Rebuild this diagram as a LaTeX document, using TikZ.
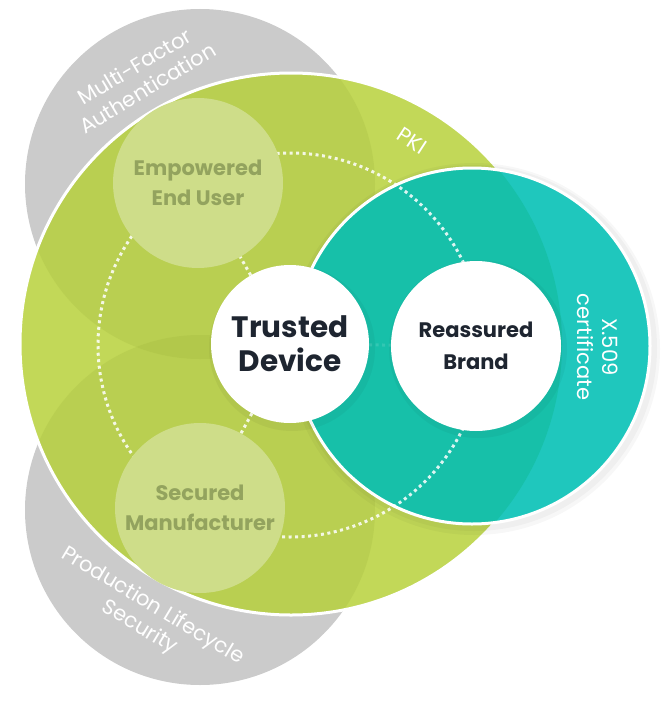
\documentclass[tikz,border=0pt]{standalone}
\usepackage{fontspec}
\setmainfont{Poppins}
\definecolor{graybg}{HTML}{CBCBCB}
\definecolor{greenlight}{HTML}{C2D858}
\definecolor{teallight}{HTML}{1FC7BD}
\definecolor{tealdark}{HTML}{17C0A9}
\definecolor{innergreen}{HTML}{CEDD89}
\definecolor{innertext}{HTML}{93A35E}
\definecolor{navy}{HTML}{1E2530}
\definecolor{greenshade}{HTML}{8FA530}
\tikzset{
  lightcirc/.style={circle, fill=innergreen, minimum size=170pt, inner sep=0pt, align=center,
    text=innertext, font=\fontsize{21}{30}\selectfont\bfseries},
  whitecirc/.style={circle, fill=white, inner sep=0pt, align=center, text=navy},
  dotline/.style={white, line width=3pt, dash pattern=on 3pt off 3.5pt},
  graylabel/.style={text=white, align=center, font=\fontsize{21}{25}\selectfont},
}
\begin{document}
\begin{tikzpicture}[x=1pt,y=-1pt]
\useasboundingbox (0,0) rectangle (670,709);
% gray circles
\fill[graybg] (200,184) circle[radius=175pt];
\fill[graybg] (200,510) circle[radius=175pt];
% big green circle
\fill[greenlight] (291,344) circle[radius=271pt];
\begin{scope}
  \clip (291,344) circle[radius=271pt];
  \fill[greenshade,opacity=0.16] (200,184) circle[radius=175pt];
  \fill[greenshade,opacity=0.16] (200,510) circle[radius=175pt];
\end{scope}
\draw[white,line width=3pt] (291,344) circle[radius=271pt];
% teal circle with soft shadow
\fill[black,opacity=0.03] (474,349) circle[radius=186pt];
\fill[black,opacity=0.03] (474,348) circle[radius=183pt];
\fill[teallight] (472,346) circle[radius=178pt];
\begin{scope}
  \clip (291,344) circle[radius=271pt];
  \fill[tealdark] (472,346) circle[radius=178pt];
\end{scope}
\draw[white,line width=3pt] (472,346) circle[radius=178pt];
% dotted ring
\draw[dotline, opacity=0.85] (290,345) circle[radius=192pt];
% inner circles
\node[lightcirc] (eu) at (198,183) {Empowered\\End User};
\node[lightcirc] (sm) at (200,508) {Secured\\Manufacturer};
% shadows of white circles
\fill[black,opacity=0.04] (292,348) circle[radius=83pt];
\fill[black,opacity=0.04] (478,349) circle[radius=89pt];
\node[whitecirc, minimum size=158pt, font=\fontsize{29.5}{34}\selectfont\bfseries] (td) at (290,344) {Trusted\\Device};
\node[whitecirc, minimum size=170pt, font=\fontsize{21}{32}\selectfont\bfseries] (rb) at (476,346) {Reassured\\Brand};
% connectors
\draw[dotline, opacity=0.85] (td) -- (eu);
\draw[dotline, opacity=0.85] (td) -- (sm);
\draw[dotline, opacity=0.12] (td) -- (rb);
% labels
\node[graylabel, rotate=31] (mfa) at (141,77) {Multi-Factor\\Authentication};
\node[graylabel, rotate=-31] (pls) at (146,617) {Production Lifecycle\\Security};
\node[graylabel, rotate=-33] (pki) at (412,141) {PKI};
\node[graylabel, rotate=-90] (x509) at (598,347) {X.509\\certificate};
\end{tikzpicture}
\end{document}
